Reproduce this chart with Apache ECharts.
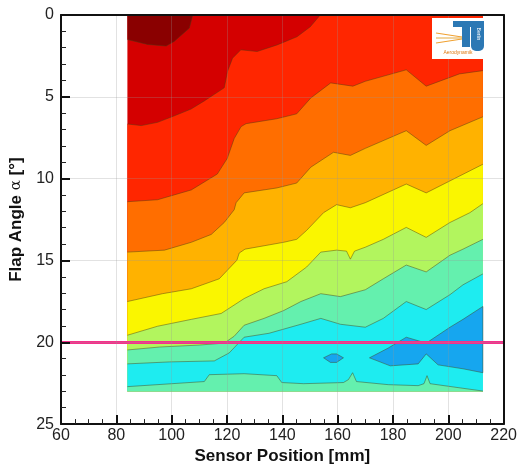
<!DOCTYPE html>
<html>
<head>
<meta charset="utf-8">
<script src="https://cdn.jsdelivr.net/npm/echarts@6/dist/echarts.min.js"></script>
<style>
  html, body { margin: 0; padding: 0; background: #fff; }
  #chart { width: 520px; height: 470px; }
</style>
</head>
<body>
<div id="chart"></div>
<script>
// Extent of the measured field: sensor positions [mm] and flap angles [deg]
const sensorRange = [84, 212.5];
const angleRange = [0, 23];

// Reference flap angle highlighted across the plot
const refAngle = 20;

// Contour lines of the pressure field, [sensor position, flap angle], left to right
const contourA = [[84,1.5],[91.3,1.8],[98,1.9],[101,1.6],[106.4,0.8],[107.6,0]];
const contourB = [[84,6.66],[89,6.76],[94.9,6.56],[101,6.16],[107,5.75],[111.8,5.25],[115.4,4.85],[119,4.45],[120.2,3.44],[122,2.64],[125,2.13],[130.9,2.23],[138.1,1.83],[145.3,1.33],[150.1,0.72],[153.7,0]];
const contourC = [[84,11.41],[94.9,11.29],[107.1,10.69],[116.5,9.72],[120.1,8.76],[122.6,7.55],[125.1,6.82],[126.9,6.64],[138,6.34],[145.2,6.04],[150.3,5.07],[157.5,4.15],[165.5,4.35],[170,4.05],[184.8,3.35],[192,4.35],[204,3.6],[212.5,3.4]];
const contourD = [[84,14.49],[97.4,14.37],[107.1,13.89],[114.3,13.41],[119,12.68],[122.6,11.9],[123.3,11.47],[126.2,10.87],[138,10.57],[145.2,10.27],[150.3,9.3],[158.5,8.39],[164.6,8.58],[170,8.15],[184.8,7.07],[192,7.97],[200.6,7.07],[212.5,6.22]];
const contourE = [[84,17.51],[96.7,17.03],[107.1,16.73],[117.2,16.12],[123.6,14.98],[124.4,14.55],[126.5,14.31],[140.5,13.89],[145.2,13.71],[148.8,13.16],[154.9,12.08],[159.6,11.59],[164.6,11.78],[170,11.47],[184.8,10.33],[192,10.87],[212.5,9.12]];
const contourF = [[84,19.57],[94.9,19.02],[107.1,18.6],[117.9,18.24],[126.2,17.33],[133.4,16.73],[141.6,16.3],[148.8,15.4],[153.9,14.49],[159.6,14.37],[163.2,14.43],[164.6,14.92],[166.1,14.43],[170,14.19],[176.5,13.71],[184.8,12.98],[192,13.59],[200.6,12.68],[207.8,12.08],[212.5,11.53]];
const contourG = [[84,20.47],[95.6,20.29],[110,20.17],[119,20.05],[122.6,19.63],[126.2,18.96],[133.4,18.54],[140.5,18.06],[146.7,17.51],[153.9,17.03],[161,17.21],[170,16.79],[176.5,16.12],[184.8,15.28],[192,15.7],[200.6,14.68],[205.3,14.31],[212.5,13.71]];
const contourH = [[84,21.32],[99.2,21.2],[115.4,21.14],[120.8,20.65],[126.2,19.69],[135.2,19.45],[146.7,18.9],[153.9,18.54],[161,18.9],[170,19.08],[176.5,18.54],[184.8,17.51],[192,18],[200.6,17.09],[205.3,16.49],[212.5,15.82]];
const contourI = [[84,22.71],[111.8,22.4],[113.6,21.98],[126.2,21.92],[138,22.04],[139.8,22.46],[147.7,22.53],[162.1,22.46],[163.9,22.28],[165.4,21.86],[166.8,22.4],[178.3,22.59],[189.1,22.65],[191.2,22.53],[192.3,22.04],[193.4,22.53],[203.5,22.77],[212.5,22.98]];

// Closed low-pressure pockets
const blueZone = [[171.5,20.95],[178.3,20.35],[184.8,19.69],[192,20.05],[200.6,19.08],[205.3,18.6],[212.5,17.81],[212.5,21.86],[205.3,21.62],[196.3,21.38],[192,20.71],[189.1,21.32],[179,21.44]];
const blueIsland = [[154.9,20.95],[157.8,20.71],[159.6,20.71],[162.1,20.95],[159.6,21.23],[157.4,21.23]];

const palette = {
  maroon: '#8a0000', darkRed: '#d40000', red: '#ff2600', orange: '#ff6e00',
  amber: '#ffb200', yellow: '#faf600', lightGreen: '#b2f55e', green: '#64f0ae',
  cyan: '#1eecf0', blue: '#16a6ef'
};

const [xMin, xMax] = sensorRange;
const [yMin, yMax] = angleRange;

// Painter's order: each band is drawn over the previous one
const layers = [
  { kind: 'rect', color: palette.darkRed },
  { kind: 'above', pts: contourA, color: palette.maroon },
  { kind: 'below', pts: contourB, color: palette.red },
  { kind: 'below', pts: contourC, color: palette.orange },
  { kind: 'below', pts: contourD, color: palette.amber },
  { kind: 'below', pts: contourE, color: palette.yellow },
  { kind: 'below', pts: contourF, color: palette.lightGreen },
  { kind: 'below', pts: contourG, color: palette.green },
  { kind: 'below', pts: contourH, color: palette.cyan },
  { kind: 'closed', pts: blueZone, color: palette.blue },
  { kind: 'closed', pts: blueIsland, color: palette.blue },
  { kind: 'below', pts: contourI, color: palette.green }
];

function regionOf(layer) {
  if (layer.kind === 'rect') {
    return [[xMin, yMin], [xMax, yMin], [xMax, yMax], [xMin, yMax]];
  }
  if (layer.kind === 'closed') return layer.pts;
  if (layer.kind === 'above') {
    return layer.pts.concat([[xMin, yMin]]);
  }
  const poly = layer.pts.slice();
  const last = poly[poly.length - 1];
  if (last[1] === yMin && last[0] < xMax) poly.push([xMax, yMin]);
  poly.push([xMax, yMax], [xMin, yMax]);
  return poly;
}

const lineStroke = 'rgba(70,60,20,0.45)';

function renderBand(params, api) {
  const layer = layers[params.dataIndex];
  const fillPts = regionOf(layer).map(p => api.coord(p));
  const children = [{
    type: 'polygon',
    shape: { points: fillPts },
    style: { fill: layer.color, stroke: layer.kind === 'closed' ? lineStroke : null, lineWidth: 1 }
  }];
  if (layer.kind === 'above' || layer.kind === 'below') {
    children.push({
      type: 'polyline',
      shape: { points: layer.pts.map(p => api.coord(p)) },
      style: { stroke: lineStroke, lineWidth: 1, fill: null }
    });
  }
  return { type: 'group', children };
}

const fontFamily = '"Liberation Sans", Arial, sans-serif';
const gridLine = { show: true, lineStyle: { color: 'rgba(150,150,150,0.28)', width: 1 } };

const chart = echarts.init(document.getElementById('chart'), null, { renderer: 'canvas' });

chart.setOption({
  animation: false,
  backgroundColor: '#fff',
  grid: { left: 61, top: 15, right: 14, bottom: 41 },
  xAxis: [{
    type: 'value', min: 60, max: 220, interval: 20, z: 10,
    name: 'Sensor Position [mm]', nameLocation: 'middle', nameGap: 21,
    nameTextStyle: { fontFamily, fontWeight: 'bold', fontSize: 17, color: '#111' },
    axisLine: { onZero: false, lineStyle: { color: '#111', width: 2 } },
    axisTick: { inside: true, length: 9, lineStyle: { color: '#111', width: 2 } },
    minorTick: { show: true, splitNumber: 4, length: 5, lineStyle: { color: '#222', width: 1 } },
    axisLabel: { fontFamily, fontSize: 16, color: '#222', margin: 3 },
    splitLine: gridLine
  }, {
    type: 'value', position: 'top', min: 60, max: 220, z: 10,
    axisLine: { onZero: false, lineStyle: { color: '#111', width: 2 } },
    axisTick: { show: false }, axisLabel: { show: false }, splitLine: { show: false }
  }],
  yAxis: [{
    type: 'value', inverse: true, min: 0, max: 25, interval: 5, z: 10,
    name: 'Flap Angle {a|α} [°]', nameLocation: 'middle', nameGap: 36,
    nameTextStyle: {
      fontFamily, fontWeight: 'bold', fontSize: 17, color: '#111',
      rich: { a: { fontFamily: '"DejaVu Serif", serif', fontWeight: 'normal', fontSize: 15, color: '#111' } }
    },
    axisLine: { onZero: false, lineStyle: { color: '#111', width: 2 } },
    axisTick: { inside: true, length: 9, lineStyle: { color: '#111', width: 2 } },
    minorTick: { show: true, splitNumber: 5, length: 5, lineStyle: { color: '#222', width: 1 } },
    axisLabel: { fontFamily, fontSize: 16, color: '#222', margin: 7 },
    splitLine: gridLine
  }, {
    type: 'value', position: 'right', inverse: true, min: 0, max: 25, z: 10,
    axisLine: { onZero: false, lineStyle: { color: '#111', width: 2 } },
    axisTick: { show: false }, axisLabel: { show: false }, splitLine: { show: false }
  }],
  series: [{
    type: 'custom',
    name: 'contours',
    coordinateSystem: 'cartesian2d',
    renderItem: renderBand,
    data: layers.map((l, i) => [xMin, yMin, i]),
    encode: { x: 0, y: 1 },
    silent: true,
    z: 2
  }, {
    type: 'line',
    name: 'reference',
    data: [],
    silent: true,
    z: 5,
    markLine: {
      symbol: 'none', silent: true, animation: false,
      label: { show: false },
      lineStyle: { color: '#f5318b', width: 3, type: 'solid' },
      data: [{ yAxis: refAngle }]
    }
  }],
  graphic: [
    // institute logo in the upper right corner of the field
    { type: 'rect', z: 100, shape: { x: 432, y: 18, width: 53, height: 41 }, style: { fill: '#fff' } },
    { type: 'polygon', z: 101, shape: { points: [[453,21],[480,21],[480,27],[470,27],[470,47],[462,47],[462,27],[453,27]] }, style: { fill: '#2c78b4' } },
    { type: 'rect', z: 101, shape: { x: 471, y: 21, width: 13, height: 30, r: [0, 0, 5, 5] }, style: { fill: '#2c78b4' } },
    { type: 'line', z: 101, shape: { x1: 436, y1: 33, x2: 462, y2: 37 }, style: { stroke: '#f0a030', lineWidth: 1.2 } },
    { type: 'line', z: 101, shape: { x1: 436, y1: 38, x2: 462, y2: 38 }, style: { stroke: '#e8b860', lineWidth: 1.2 } },
    { type: 'line', z: 101, shape: { x1: 436, y1: 43, x2: 462, y2: 39 }, style: { stroke: '#f0a030', lineWidth: 1.2 } },
    { type: 'text', z: 102, x: 458, y: 53, style: { text: 'Aerodynamik', fontSize: 5, fontFamily, fill: '#e07a10', align: 'center', verticalAlign: 'middle' } },
    { type: 'text', z: 102, x: 478, y: 34, rotation: -Math.PI / 2, style: { text: 'Berlin', fontSize: 5, fontFamily, fill: '#fff', align: 'center', verticalAlign: 'middle' } }
  ]
});
</script>
</body>
</html>
